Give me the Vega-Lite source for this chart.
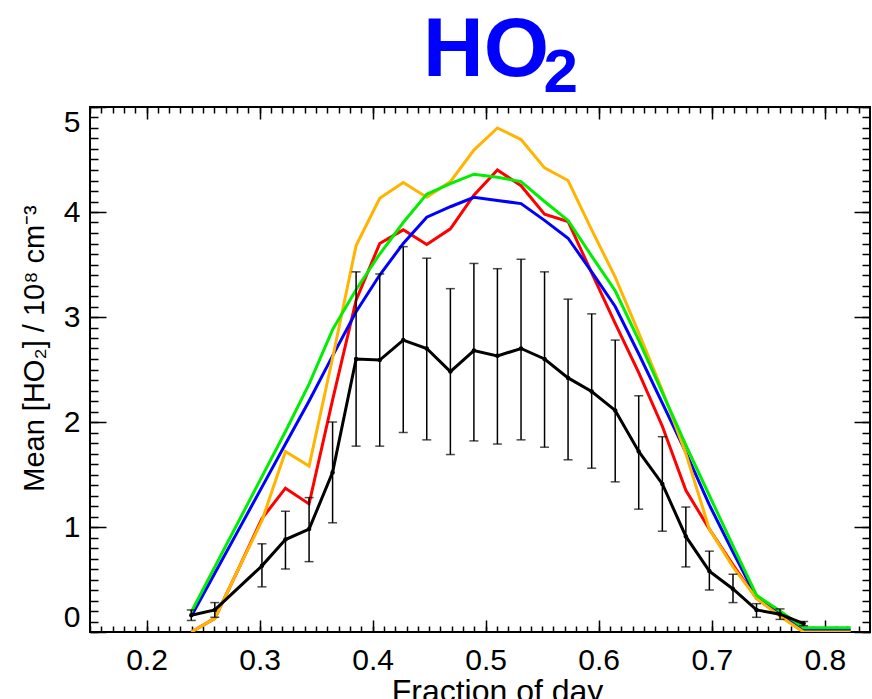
{
  "$schema": "https://vega.github.io/schema/vega-lite/v6.json",
  "width": 780,
  "height": 525,
  "autosize": {"type": "none"},
  "padding": {"left": 90, "top": 107, "right": 2, "bottom": 67},
  "background": "white",
  "config": {
    "view": {"stroke": "black", "strokeWidth": 2},
    "axis": {"grid": false, "domain": false, "tickColor": "black", "labelColor": "black", "titleColor": "black", "labelFont": "Liberation Sans", "titleFont": "Liberation Sans", "titleFontWeight": "normal"}
  },
  "title": {"text": "HO", "subtitle": "\u200b\u00a0\u00a0\u00a0\u00a0\u00a0\u00a0\u00a02", "fontSize": 84, "fontWeight": "bold", "font": "Liberation Sans", "color": "#0000FF", "subtitleFontSize": 62, "subtitleFontWeight": "bold", "subtitleFont": "Liberation Sans", "subtitleColor": "#0000FF", "subtitlePadding": -51, "anchor": "middle", "align": "left", "dx": -57, "offset": 1},
  "datasets": {
    "lines": [
      {"x":0.2396,"s":"red","y":0.0},{"x":0.2604,"s":"red","y":0.13},{"x":0.2813,"s":"red","y":0.6},{"x":0.3021,"s":"red","y":1.08},{"x":0.3229,"s":"red","y":1.37},{"x":0.3438,"s":"red","y":1.22},{"x":0.3646,"s":"red","y":2.21},{"x":0.3854,"s":"red","y":3.16},{"x":0.4063,"s":"red","y":3.70},{"x":0.4271,"s":"red","y":3.83},{"x":0.4479,"s":"red","y":3.69},{"x":0.4688,"s":"red","y":3.84},{"x":0.4896,"s":"red","y":4.16},{"x":0.5104,"s":"red","y":4.40},{"x":0.5313,"s":"red","y":4.25},{"x":0.5521,"s":"red","y":3.98},{"x":0.5729,"s":"red","y":3.91},{"x":0.5938,"s":"red","y":3.42},{"x":0.6146,"s":"red","y":2.94},{"x":0.6354,"s":"red","y":2.47},{"x":0.6563,"s":"red","y":1.96},{"x":0.6771,"s":"red","y":1.35},{"x":0.6979,"s":"red","y":0.98},{"x":0.7188,"s":"red","y":0.64},{"x":0.7396,"s":"red","y":0.32},{"x":0.7604,"s":"red","y":0.16},{"x":0.7813,"s":"red","y":0.0},{"x":0.8021,"s":"red","y":0.0},{"x":0.8229,"s":"red","y":0.0},
      {"x":0.2396,"s":"blue","y":0.15},{"x":0.2604,"s":"blue","y":0.56},{"x":0.2813,"s":"blue","y":0.97},{"x":0.3021,"s":"blue","y":1.38},{"x":0.3229,"s":"blue","y":1.79},{"x":0.3438,"s":"blue","y":2.20},{"x":0.3646,"s":"blue","y":2.63},{"x":0.3854,"s":"blue","y":3.05},{"x":0.4063,"s":"blue","y":3.40},{"x":0.4271,"s":"blue","y":3.70},{"x":0.4479,"s":"blue","y":3.95},{"x":0.4688,"s":"blue","y":4.05},{"x":0.4896,"s":"blue","y":4.14},{"x":0.5104,"s":"blue","y":4.11},{"x":0.5313,"s":"blue","y":4.08},{"x":0.5521,"s":"blue","y":3.92},{"x":0.5729,"s":"blue","y":3.75},{"x":0.5938,"s":"blue","y":3.43},{"x":0.6146,"s":"blue","y":3.10},{"x":0.6354,"s":"blue","y":2.65},{"x":0.6563,"s":"blue","y":2.18},{"x":0.6771,"s":"blue","y":1.71},{"x":0.6979,"s":"blue","y":1.21},{"x":0.7188,"s":"blue","y":0.76},{"x":0.7396,"s":"blue","y":0.33},{"x":0.7604,"s":"blue","y":0.19},{"x":0.7813,"s":"blue","y":0.02},{"x":0.8021,"s":"blue","y":0.02},{"x":0.8229,"s":"blue","y":0.02},
      {"x":0.2396,"s":"orange","y":0.0},{"x":0.2604,"s":"orange","y":0.13},{"x":0.2813,"s":"orange","y":0.6},{"x":0.3021,"s":"orange","y":1.06},{"x":0.3229,"s":"orange","y":1.72},{"x":0.3438,"s":"orange","y":1.58},{"x":0.3646,"s":"orange","y":2.61},{"x":0.3854,"s":"orange","y":3.68},{"x":0.4063,"s":"orange","y":4.13},{"x":0.4271,"s":"orange","y":4.28},{"x":0.4479,"s":"orange","y":4.14},{"x":0.4688,"s":"orange","y":4.29},{"x":0.4896,"s":"orange","y":4.59},{"x":0.5104,"s":"orange","y":4.80},{"x":0.5313,"s":"orange","y":4.69},{"x":0.5521,"s":"orange","y":4.42},{"x":0.5729,"s":"orange","y":4.30},{"x":0.5938,"s":"orange","y":3.83},{"x":0.6146,"s":"orange","y":3.38},{"x":0.6354,"s":"orange","y":2.85},{"x":0.6563,"s":"orange","y":2.30},{"x":0.6771,"s":"orange","y":1.70},{"x":0.6979,"s":"orange","y":0.98},{"x":0.7188,"s":"orange","y":0.62},{"x":0.7396,"s":"orange","y":0.32},{"x":0.7604,"s":"orange","y":0.15},{"x":0.7813,"s":"orange","y":0.0},{"x":0.8021,"s":"orange","y":0.0},{"x":0.8229,"s":"orange","y":0.0},
      {"x":0.2396,"s":"green","y":0.19},{"x":0.2604,"s":"green","y":0.62},{"x":0.2813,"s":"green","y":1.05},{"x":0.3021,"s":"green","y":1.48},{"x":0.3229,"s":"green","y":1.91},{"x":0.3438,"s":"green","y":2.36},{"x":0.3646,"s":"green","y":2.88},{"x":0.3854,"s":"green","y":3.26},{"x":0.4063,"s":"green","y":3.60},{"x":0.4271,"s":"green","y":3.90},{"x":0.4479,"s":"green","y":4.17},{"x":0.4688,"s":"green","y":4.27},{"x":0.4896,"s":"green","y":4.36},{"x":0.5104,"s":"green","y":4.33},{"x":0.5313,"s":"green","y":4.29},{"x":0.5521,"s":"green","y":4.10},{"x":0.5729,"s":"green","y":3.92},{"x":0.5938,"s":"green","y":3.58},{"x":0.6146,"s":"green","y":3.25},{"x":0.6354,"s":"green","y":2.78},{"x":0.6563,"s":"green","y":2.28},{"x":0.6771,"s":"green","y":1.78},{"x":0.6979,"s":"green","y":1.30},{"x":0.7188,"s":"green","y":0.82},{"x":0.7396,"s":"green","y":0.35},{"x":0.7604,"s":"green","y":0.20},{"x":0.7813,"s":"green","y":0.04},{"x":0.8021,"s":"green","y":0.04},{"x":0.8229,"s":"green","y":0.04}
    ],
    "obs": [
      {"x":0.2396,"m":0.16,"lo":0.11,"hi":0.21},
      {"x":0.2604,"m":0.21,"lo":0.14,"hi":0.28},
      {"x":0.3021,"m":0.63,"lo":0.43,"hi":0.84},
      {"x":0.3229,"m":0.88,"lo":0.60,"hi":1.15},
      {"x":0.3438,"m":0.98,"lo":0.67,"hi":1.28},
      {"x":0.3646,"m":1.52,"lo":1.04,"hi":2.00},
      {"x":0.3854,"m":2.60,"lo":1.77,"hi":3.43},
      {"x":0.4063,"m":2.59,"lo":1.77,"hi":3.41},
      {"x":0.4271,"m":2.78,"lo":1.90,"hi":3.67},
      {"x":0.4479,"m":2.70,"lo":1.83,"hi":3.56},
      {"x":0.4688,"m":2.48,"lo":1.69,"hi":3.27},
      {"x":0.4896,"m":2.68,"lo":1.82,"hi":3.51},
      {"x":0.5104,"m":2.63,"lo":1.79,"hi":3.46},
      {"x":0.5313,"m":2.70,"lo":1.83,"hi":3.55},
      {"x":0.5521,"m":2.60,"lo":1.76,"hi":3.43},
      {"x":0.5729,"m":2.42,"lo":1.64,"hi":3.17},
      {"x":0.5938,"m":2.29,"lo":1.56,"hi":3.03},
      {"x":0.6146,"m":2.11,"lo":1.43,"hi":2.78},
      {"x":0.6354,"m":1.72,"lo":1.17,"hi":2.25},
      {"x":0.6563,"m":1.41,"lo":0.96,"hi":1.86},
      {"x":0.6771,"m":0.91,"lo":0.62,"hi":1.19},
      {"x":0.6979,"m":0.58,"lo":0.40,"hi":0.77},
      {"x":0.7188,"m":0.41,"lo":0.28,"hi":0.55},
      {"x":0.7396,"m":0.21,"lo":0.14,"hi":0.27},
      {"x":0.7604,"m":0.17,"lo":0.12,"hi":0.22},
      {"x":0.7813,"m":0.08,"lo":0.06,"hi":0.10}
    ]
  },
  "resolve": {"axis": {"x": "independent", "y": "independent"}},
  "layer": [
    {
      "data": {"name": "lines"},
      "transform": [{"filter": "datum.s == 'red'"}],
      "mark": {"type": "line", "color": "#FF0000", "strokeWidth": 3, "clip": true},
      "encoding": {
        "x": {"field": "x", "type": "quantitative", "scale": {"domain": [0.15, 0.84], "nice": false, "zero": false},
          "axis": {"orient": "bottom", "values": [0.2,0.3,0.4,0.5,0.6,0.7,0.8], "format": ".1f", "tickSize": -12, "tickWidth": 1.5, "labelFontSize": 30, "labelPadding": 25, "labelFlush": false, "title": "Fraction of day", "titleFontSize": 32, "titlePadding": 1, "titleX": 407}},
        "y": {"field": "y", "type": "quantitative", "scale": {"domain": [0, 5], "nice": false, "zero": true},
          "axis": {"orient": "left", "values": [0,1,2,3,4,5], "format": "d", "tickSize": -16, "tickWidth": 1.5, "labelFontSize": 30, "labelPadding": 26, "labelFlush": true, "title": "Mean [HO₂] / 10⁸ cm⁻³", "titleFontSize": 29, "titlePadding": 14, "titleY": 241}}
      }
    },
    {
      "data": {"name": "lines"},
      "transform": [{"filter": "datum.s == 'blue'"}],
      "mark": {"type": "line", "color": "#0000FF", "strokeWidth": 3, "clip": true},
      "encoding": {
        "x": {"field": "x", "type": "quantitative", "scale": {"domain": [0.15, 0.84], "nice": false, "zero": false},
          "axis": {"orient": "bottom", "values": [0.15,0.16,0.17,0.18,0.19,0.2,0.21,0.22,0.23,0.24,0.25,0.26,0.27,0.28,0.29,0.3,0.31,0.32,0.33,0.34,0.35,0.36,0.37,0.38,0.39,0.4,0.41,0.42,0.43,0.44,0.45,0.46,0.47,0.48,0.49,0.5,0.51,0.52,0.53,0.54,0.55,0.56,0.57,0.58,0.59,0.6,0.61,0.62,0.63,0.64,0.65,0.66,0.67,0.68,0.69,0.7,0.71,0.72,0.73,0.74,0.75,0.76,0.77,0.78,0.79,0.8,0.81,0.82,0.83], "tickSize": -6, "tickWidth": 1.5, "labels": false, "title": null}},
        "y": {"field": "y", "type": "quantitative", "scale": {"domain": [0, 5], "nice": false, "zero": true},
          "axis": {"orient": "left", "values": [0,0.1,0.2,0.3,0.4,0.5,0.6,0.7,0.8,0.9,1,1.1,1.2,1.3,1.4,1.5,1.6,1.7,1.8,1.9,2,2.1,2.2,2.3,2.4,2.5,2.6,2.7,2.8,2.9,3,3.1,3.2,3.3,3.4,3.5,3.6,3.7,3.8,3.9,4,4.1,4.2,4.3,4.4,4.5,4.6,4.7,4.8,4.9,5], "tickSize": -8, "tickWidth": 1.5, "labels": false, "title": null}}
      }
    },
    {
      "data": {"name": "lines"},
      "transform": [{"filter": "datum.s == 'orange'"}],
      "mark": {"type": "line", "color": "#FFB400", "strokeWidth": 3, "clip": true},
      "encoding": {
        "x": {"field": "x", "type": "quantitative", "scale": {"domain": [0.15, 0.84], "nice": false, "zero": false},
          "axis": {"orient": "top", "values": [0.2,0.3,0.4,0.5,0.6,0.7,0.8], "tickSize": -12, "tickWidth": 1.5, "labels": false, "title": null}},
        "y": {"field": "y", "type": "quantitative", "scale": {"domain": [0, 5], "nice": false, "zero": true},
          "axis": {"orient": "right", "values": [0,1,2,3,4,5], "tickSize": -16, "tickWidth": 1.5, "labels": false, "title": null}}
      }
    },
    {
      "data": {"name": "lines"},
      "transform": [{"filter": "datum.s == 'green'"}],
      "mark": {"type": "line", "color": "#00EE00", "strokeWidth": 3, "clip": true},
      "encoding": {
        "x": {"field": "x", "type": "quantitative", "scale": {"domain": [0.15, 0.84], "nice": false, "zero": false},
          "axis": {"orient": "top", "values": [0.15,0.16,0.17,0.18,0.19,0.2,0.21,0.22,0.23,0.24,0.25,0.26,0.27,0.28,0.29,0.3,0.31,0.32,0.33,0.34,0.35,0.36,0.37,0.38,0.39,0.4,0.41,0.42,0.43,0.44,0.45,0.46,0.47,0.48,0.49,0.5,0.51,0.52,0.53,0.54,0.55,0.56,0.57,0.58,0.59,0.6,0.61,0.62,0.63,0.64,0.65,0.66,0.67,0.68,0.69,0.7,0.71,0.72,0.73,0.74,0.75,0.76,0.77,0.78,0.79,0.8,0.81,0.82,0.83], "tickSize": -6, "tickWidth": 1.5, "labels": false, "title": null}},
        "y": {"field": "y", "type": "quantitative", "scale": {"domain": [0, 5], "nice": false, "zero": true},
          "axis": {"orient": "right", "values": [0,0.1,0.2,0.3,0.4,0.5,0.6,0.7,0.8,0.9,1,1.1,1.2,1.3,1.4,1.5,1.6,1.7,1.8,1.9,2,2.1,2.2,2.3,2.4,2.5,2.6,2.7,2.8,2.9,3,3.1,3.2,3.3,3.4,3.5,3.6,3.7,3.8,3.9,4,4.1,4.2,4.3,4.4,4.5,4.6,4.7,4.8,4.9,5], "tickSize": -8, "tickWidth": 1.5, "labels": false, "title": null}}
      }
    },
    {
      "data": {"name": "obs"},
      "mark": {"type": "rule", "color": "black", "strokeWidth": 1.5},
      "encoding": {
        "x": {"field": "x", "type": "quantitative", "axis": null},
        "y": {"field": "lo", "type": "quantitative", "axis": null},
        "y2": {"field": "hi"}
      }
    },
    {
      "data": {"name": "obs"},
      "mark": {"type": "tick", "orient": "horizontal", "color": "black", "size": 9, "thickness": 1.5},
      "encoding": {
        "x": {"field": "x", "type": "quantitative", "axis": null},
        "y": {"field": "lo", "type": "quantitative", "axis": null}
      }
    },
    {
      "data": {"name": "obs"},
      "mark": {"type": "tick", "orient": "horizontal", "color": "black", "size": 9, "thickness": 1.5},
      "encoding": {
        "x": {"field": "x", "type": "quantitative", "axis": null},
        "y": {"field": "hi", "type": "quantitative", "axis": null}
      }
    },
    {
      "data": {"name": "obs"},
      "mark": {"type": "line", "color": "black", "strokeWidth": 3},
      "encoding": {
        "x": {"field": "x", "type": "quantitative", "axis": null},
        "y": {"field": "m", "type": "quantitative", "axis": null}
      }
    },
    {
      "data": {"name": "obs"},
      "mark": {"type": "point", "filled": true, "color": "black", "size": 20, "opacity": 1},
      "encoding": {
        "x": {"field": "x", "type": "quantitative", "axis": null},
        "y": {"field": "m", "type": "quantitative", "axis": null}
      }
    }
  ]
}
